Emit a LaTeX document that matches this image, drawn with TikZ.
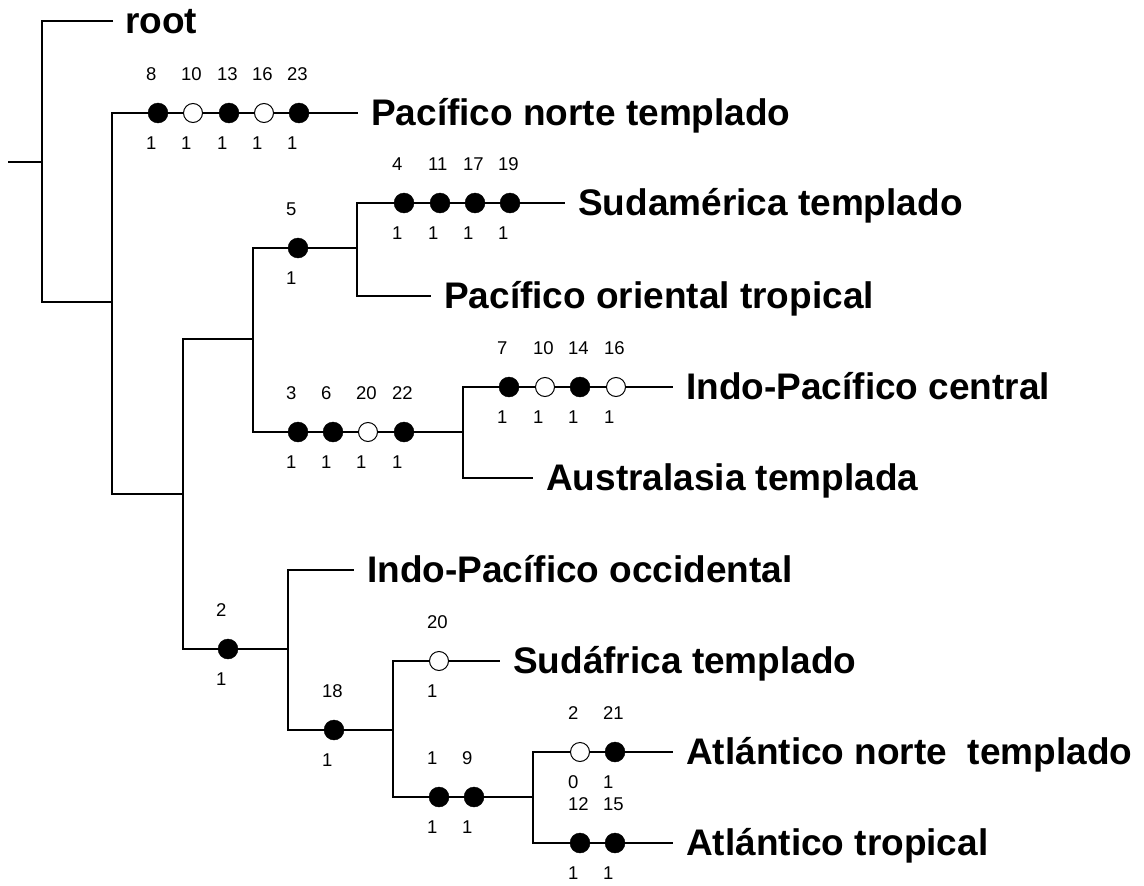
\documentclass[tikz,border=0pt]{standalone}
\usepackage{fontspec}
\setmainfont{Liberation Sans}
\usetikzlibrary{positioning, calc}
% a character change on a branch: name, style, x, y, number above, number below
\newcommand{\chg}[6]{%
    \node[#2] (#1) at (#3,#4) {};
    \node[num] at ([xshift=-12pt,yshift=32.4pt]#1.center) {#5};
    \node[num] at ([xshift=-12pt,yshift=-36.6pt]#1.center) {#6};
}

\begin{document}
\begin{tikzpicture}[
    x=1pt, y=-1pt,
    branch/.style={line width=2pt},
    apo/.style={
        circle,
        draw=black,
        fill=black,
        minimum size=20pt,
        inner sep=0pt
    },
    homo/.style={
        circle,
        draw=black,
        fill=white,
        line width=1pt,
        minimum size=19pt,
        inner sep=0pt
    },
    tip/.style={
        anchor=west,
        inner xsep=13pt,
        inner ysep=0pt,
        text height=30pt,% baseline sits 12pt under the branch
        text depth=6pt,
        font=\bfseries\fontsize{37}{40}\selectfont
    },
    num/.style={
        anchor=base west,
        inner sep=0pt,
        font=\fontsize{18.5}{20}\selectfont
    }
]
    \useasboundingbox (0,0) rectangle (1144,886);

    % --- vertices (where the parent branch meets the vertical bar) ---
    \coordinate (stub) at (8,162);
    \coordinate (r0) at (42,162);
    \coordinate (v1) at (112,302);
    \coordinate (v2) at (183,494);
    \coordinate (v3) at (253,339);
    \coordinate (v4) at (357,248);
    \coordinate (v5) at (463,432);
    \coordinate (v7) at (288,649);
    \coordinate (v8) at (393,730);
    \coordinate (v9) at (533,797);

    % --- terminal labels ---
    \node[tip, inner xsep=12pt] (root) at (113,21) {root};
    \node[tip] (pnt) at (358,113) {Pacífico norte templado};
    \node[tip] (sam) at (565,203) {Sudamérica templado};
    \node[tip] (pot) at (431,296) {Pacífico oriental tropical};
    \node[tip] (ipc) at (673,387) {Indo-Pacífico central};
    \node[tip] (aus) at (533,478) {Australasia templada};
    \node[tip] (ipo) at (354,570) {Indo-Pacífico occidental};
    \node[tip] (saf) at (500,661) {Sudáfrica templado};
    \node[tip] (ant) at (673,752) {Atlántico norte\ \ templado};
    \node[tip] (atr) at (673,843) {Atlántico tropical};

    % --- character changes ---
    \chg{c8}{apo}{158}{113}{8}{1}
    \chg{c10}{homo}{193}{113}{10}{1}
    \chg{c13}{apo}{229}{113}{13}{1}
    \chg{c16}{homo}{264}{113}{16}{1}
    \chg{c23}{apo}{299}{113}{23}{1}

    \chg{d5}{apo}{298}{248}{5}{1}
    \chg{s4}{apo}{404}{203}{4}{1}
    \chg{s11}{apo}{440}{203}{11}{1}
    \chg{s17}{apo}{475}{203}{17}{1}
    \chg{s19}{apo}{510}{203}{19}{1}

    \chg{d3}{apo}{298}{432}{3}{1}
    \chg{d6}{apo}{333}{432}{6}{1}
    \chg{d20}{homo}{368}{432}{20}{1}
    \chg{d22}{apo}{404}{432}{22}{1}
    \chg{i7}{apo}{509}{387}{7}{1}
    \chg{i10}{homo}{545}{387}{10}{1}
    \chg{i14}{apo}{580}{387}{14}{1}
    \chg{i16}{homo}{616}{387}{16}{1}

    \chg{d2}{apo}{228}{649}{2}{1}
    \chg{d18}{apo}{334}{730}{18}{1}
    \chg{e20}{homo}{439}{661}{20}{1}
    \chg{e1}{apo}{439}{797}{1}{1}
    \chg{e9}{apo}{474}{797}{9}{1}
    \chg{n2}{homo}{580}{752}{2}{0}
    \chg{n21}{apo}{615}{752}{21}{1}
    \chg{t12}{apo}{580}{843}{12}{1}
    \chg{t15}{apo}{615}{843}{15}{1}

    % --- branches ---
    \draw[branch] (stub) -- (r0);
    \draw[branch] (root) -| (r0) |- (v1);
    \draw[branch] (v1) |- (c8) -- (c10) -- (c13) -- (c16) -- (c23) -- (pnt);
    \draw[branch] (v1) |- (v2);
    \draw[branch] (v2) |- (v3);
    \draw[branch] (v2) |- (d2) -- (v7);
    \draw[branch] (v3) |- (d5) -- (v4);
    \draw[branch] (v3) |- (d3) -- (d6) -- (d20) -- (d22) -- (v5);
    \draw[branch] (v4) |- (s4) -- (s11) -- (s17) -- (s19) -- (sam);
    \draw[branch] (v4) |- (pot);
    \draw[branch] (v5) |- (i7) -- (i10) -- (i14) -- (i16) -- (ipc);
    \draw[branch] (v5) |- (aus);
    \draw[branch] (v7) |- (ipo);
    \draw[branch] (v7) |- (d18) -- (v8);
    \draw[branch] (v8) |- (e20) -- (saf);
    \draw[branch] (v8) |- (e1) -- (e9) -- (v9);
    \draw[branch] (v9) |- (n2) -- (n21) -- (ant);
    \draw[branch] (v9) |- (t12) -- (t15) -- (atr);

\end{tikzpicture}
\end{document}
